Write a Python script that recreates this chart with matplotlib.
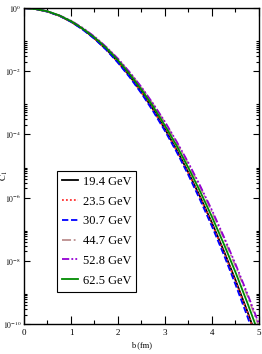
import numpy as np
import matplotlib
matplotlib.use("Agg")
import matplotlib.pyplot as plt
from matplotlib.ticker import FixedLocator, FixedFormatter

plt.rcParams['font.family'] = ['Liberation Serif', 'DejaVu Serif']
plt.rcParams['mathtext.fontset'] = 'stix'

# impact parameter b (fm) and log10(C_1)
b = [0.0, 0.25, 0.5, 0.75, 1.0, 1.25, 1.5, 1.75, 2.0, 2.25, 2.5,
     2.75, 3.0, 3.25, 3.5, 3.75, 4.0, 4.25, 4.5, 4.75, 5.0]

logc_194 = [0, -0.03, -0.11, -0.24, -0.43, -0.66, -0.96, -1.30, -1.70, -2.15, -2.66,
            -3.21, -3.83, -4.49, -5.21, -5.98, -6.80, -7.68, -8.61, -9.59, -10.63]
logc_235 = [0, -0.03, -0.11, -0.24, -0.43, -0.67, -0.96, -1.31, -1.71, -2.16, -2.67,
            -3.23, -3.84, -4.51, -5.23, -6.00, -6.83, -7.71, -8.65, -9.63, -10.68]
logc_307 = [0, -0.03, -0.11, -0.24, -0.43, -0.68, -0.97, -1.32, -1.73, -2.19, -2.70,
            -3.27, -3.89, -4.56, -5.29, -6.08, -6.91, -7.80, -8.75, -9.75, -10.80]
logc_447 = [0, -0.03, -0.10, -0.23, -0.40, -0.63, -0.91, -1.23, -1.61, -2.04, -2.52,
            -3.05, -3.63, -4.26, -4.94, -5.67, -6.45, -7.28, -8.16, -9.09, -10.08]
logc_528 = [0, -0.03, -0.10, -0.23, -0.40, -0.63, -0.90, -1.23, -1.60, -2.03, -2.50,
            -3.03, -3.60, -4.23, -4.90, -5.63, -6.40, -7.23, -8.10, -9.03, -10.00]
logc_625 = [0, -0.03, -0.10, -0.23, -0.41, -0.65, -0.93, -1.26, -1.65, -2.09, -2.58,
            -3.12, -3.72, -4.36, -5.06, -5.81, -6.61, -7.46, -8.36, -9.32, -10.33]

labels = ["19.4 GeV", "23.5 GeV", "30.7 GeV", "44.7 GeV", "52.8 GeV", "62.5 GeV"]
series = [logc_194, logc_235, logc_307, logc_447, logc_528, logc_625]
colors = ["black", "#ff3030", "#0000ff", "#bc8f8f", "#9400d3", "#008b00"]
styles = ["-", (0, (1, 1.2)), (0, (3.5, 1.5)), (0, (5, 1.5, 1, 1.5)),
          (0, (4, 1.2, 1, 1.2, 1, 1.2)), "-"]

fig = plt.figure(figsize=(2.62, 3.54), dpi=100)
ax = fig.add_axes([0.0916, 0.0847, 0.8969, 0.8923])

for lc, lab, col, ls in zip(series, labels, colors, styles):
    ax.plot(b, 10.0 ** np.array(lc), color=col, ls=ls, lw=1.3, label=lab)

ax.set_yscale("log")
ax.set_xlim(0, 5)
ax.set_ylim(1e-10, 1)

# x ticks: majors every 1, minors every 0.5
ax.xaxis.set_major_locator(FixedLocator([0, 1, 2, 3, 4, 5]))
ax.xaxis.set_minor_locator(FixedLocator([0.5, 1.5, 2.5, 3.5, 4.5]))

# y ticks: majors every two decades, minors only in decade below each major
majors = [1e0, 1e-2, 1e-4, 1e-6, 1e-8, 1e-10]
ax.yaxis.set_major_locator(FixedLocator(majors))
ax.yaxis.set_major_formatter(FixedFormatter([r"$10^{0}$", r"$10^{-2}$", r"$10^{-4}$",
                                             r"$10^{-6}$", r"$10^{-8}$", r"$10^{-10}$"]))
minors = [k * 10.0 ** e for e in [-2, -4, -6, -8, -10] for k in range(2, 10)]
ax.yaxis.set_minor_locator(FixedLocator(minors))
ax.yaxis.set_minor_formatter(FixedFormatter([""] * len(minors)))

ax.tick_params(which="both", direction="in", top=True, right=True, labelsize=6.5, width=0.8)
ax.tick_params(axis="x", which="major", length=6)
ax.tick_params(axis="x", which="minor", length=3)
ax.tick_params(axis="y", which="major", length=4)
ax.tick_params(axis="y", which="minor", length=2)
ax.tick_params(axis="y", labelsize=5.5, pad=2)
for s in ax.spines.values():
    s.set_linewidth(1.0)

ax.set_xlabel("b (fm)", fontsize=6, labelpad=3)
ax.set_ylabel(r"$\mathrm{C}_{\,1}$", fontsize=6.5)
ax.yaxis.set_label_coords(-0.06, 0.47)

leg = ax.legend(loc="upper left", bbox_to_anchor=(0.14, 0.485), fontsize=9,
                frameon=True, fancybox=False, edgecolor="black", framealpha=1,
                handlelength=1.3, handletextpad=0.35, labelspacing=0.62,
                borderpad=0.4, borderaxespad=0)
leg.get_frame().set_linewidth(0.8)

fig.savefig("out.png", dpi=100)
